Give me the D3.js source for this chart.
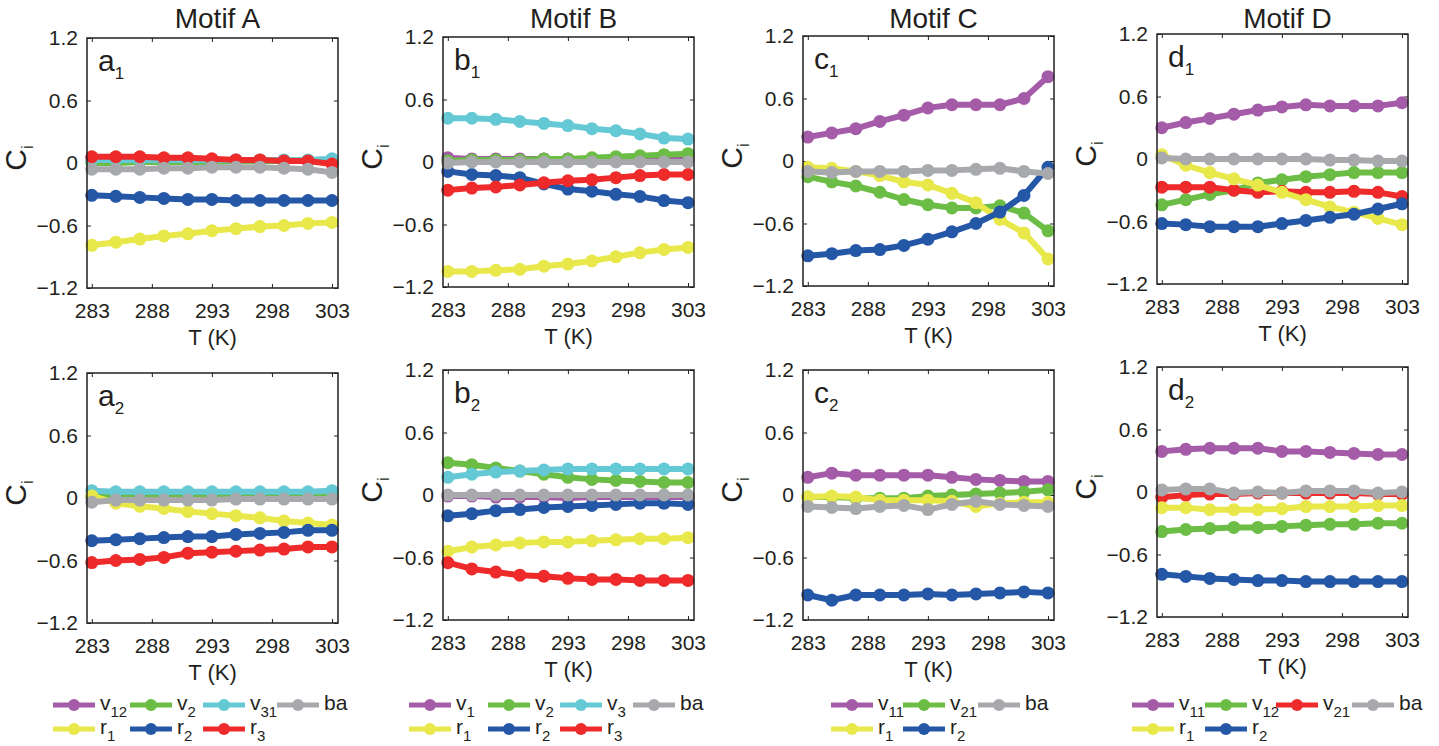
<!DOCTYPE html>
<html>
<head>
<meta charset="utf-8">
<script src="https://cdn.jsdelivr.net/npm/d3@7"></script>
<style>
  body { margin: 0; background: #fff; }
  svg { display: block; font-family: "Liberation Sans", Arial, sans-serif; }
  .tick text { fill: #231f20; font-size: 21px; }
  .tick line { stroke: #231f20; stroke-width: 1; }
</style>
</head>
<body>
<svg id="chart" width="1439" height="746"></svg>
<script>
// temperature points (K)
const temps = [283, 285, 287, 289, 291, 293, 295, 297, 299, 301, 303];
const xTicks = [283, 288, 293, 298, 303];
const yTicks = [-1.2, -0.6, 0, 0.6, 1.2];

// Motif A, condition 1
const a1_v12 = [0.05, 0.05, 0.05, 0.04, 0.04, 0.03, 0.03, 0.02, 0.02, 0.02, 0.01];
const a1_v2 = [0.0, 0.0, 0.01, 0.01, 0.01, 0.01, 0.02, 0.02, 0.02, 0.02, 0.02];
const a1_v31 = [0.03, 0.03, 0.03, 0.03, 0.03, 0.03, 0.03, 0.03, 0.03, 0.03, 0.04];
const a1_r1 = [-0.79, -0.76, -0.73, -0.70, -0.68, -0.65, -0.63, -0.61, -0.60, -0.58, -0.57];
const a1_r2 = [-0.31, -0.32, -0.33, -0.34, -0.35, -0.35, -0.36, -0.36, -0.36, -0.36, -0.36];
const a1_r3 = [0.06, 0.06, 0.06, 0.05, 0.05, 0.04, 0.03, 0.03, 0.02, 0.02, -0.01];
const a1_ba = [-0.06, -0.06, -0.06, -0.05, -0.05, -0.04, -0.04, -0.04, -0.05, -0.06, -0.09];

// Motif A, condition 2
const a2_v12 = [0.01, 0.01, 0.01, 0.01, 0.01, 0.01, 0.01, 0.01, 0.01, 0.01, 0.01];
const a2_v2 = [0.02, 0.02, 0.02, 0.02, 0.02, 0.02, 0.02, 0.02, 0.02, 0.02, 0.02];
const a2_v31 = [0.07, 0.06, 0.06, 0.06, 0.06, 0.06, 0.06, 0.06, 0.06, 0.06, 0.07];
const a2_r1 = [0.02, -0.05, -0.08, -0.10, -0.13, -0.15, -0.17, -0.19, -0.22, -0.24, -0.26];
const a2_r2 = [-0.41, -0.40, -0.39, -0.38, -0.37, -0.37, -0.35, -0.34, -0.33, -0.31, -0.31];
const a2_r3 = [-0.62, -0.60, -0.59, -0.57, -0.53, -0.52, -0.51, -0.50, -0.49, -0.47, -0.47];
const a2_ba = [-0.04, -0.02, -0.02, -0.02, -0.02, -0.02, -0.01, -0.01, -0.01, -0.01, -0.01];

// Motif B, condition 1
const b1_v1 = [0.04, 0.03, 0.03, 0.03, 0.03, 0.03, 0.03, 0.03, 0.03, 0.03, 0.03];
const b1_v2 = [0.01, 0.02, 0.02, 0.02, 0.03, 0.03, 0.04, 0.05, 0.06, 0.07, 0.08];
const b1_v3 = [0.42, 0.42, 0.41, 0.39, 0.37, 0.35, 0.32, 0.30, 0.27, 0.23, 0.22];
const b1_r1 = [-1.05, -1.05, -1.04, -1.03, -1.00, -0.98, -0.95, -0.91, -0.87, -0.84, -0.82];
const b1_r2 = [-0.09, -0.12, -0.13, -0.15, -0.21, -0.26, -0.28, -0.31, -0.33, -0.37, -0.39];
const b1_r3 = [-0.27, -0.25, -0.24, -0.22, -0.20, -0.18, -0.17, -0.15, -0.13, -0.12, -0.12];
const b1_ba = [-0.01, 0.0, 0.0, 0.0, 0.0, 0.0, 0.0, 0.0, 0.0, 0.0, 0.0];

// Motif B, condition 2
const b2_v1 = [-0.01, -0.01, -0.02, -0.02, -0.02, -0.03, -0.02, -0.02, -0.02, -0.02, -0.02];
const b2_v2 = [0.31, 0.29, 0.26, 0.23, 0.20, 0.17, 0.15, 0.14, 0.13, 0.12, 0.12];
const b2_v3 = [0.17, 0.20, 0.22, 0.23, 0.24, 0.25, 0.25, 0.25, 0.25, 0.25, 0.25];
const b2_r1 = [-0.54, -0.50, -0.48, -0.46, -0.45, -0.45, -0.44, -0.43, -0.42, -0.42, -0.41];
const b2_r2 = [-0.20, -0.18, -0.15, -0.14, -0.12, -0.11, -0.10, -0.09, -0.08, -0.08, -0.09];
const b2_r3 = [-0.65, -0.71, -0.74, -0.77, -0.78, -0.80, -0.81, -0.81, -0.82, -0.82, -0.82];
const b2_ba = [0.0, 0.0, 0.0, 0.0, 0.0, 0.0, 0.0, 0.0, 0.0, 0.0, 0.0];

// Motif C, condition 1
const c1_v11 = [0.23, 0.27, 0.31, 0.38, 0.44, 0.51, 0.54, 0.54, 0.54, 0.60, 0.81];
const c1_v21 = [-0.15, -0.20, -0.24, -0.30, -0.37, -0.42, -0.45, -0.45, -0.43, -0.50, -0.67];
const c1_r1 = [-0.06, -0.07, -0.10, -0.14, -0.20, -0.23, -0.31, -0.40, -0.56, -0.69, -0.94];
const c1_r2 = [-0.91, -0.89, -0.86, -0.85, -0.81, -0.75, -0.68, -0.60, -0.49, -0.33, -0.06];
const c1_ba = [-0.10, -0.11, -0.10, -0.10, -0.10, -0.09, -0.09, -0.08, -0.07, -0.10, -0.12];

// Motif C, condition 2
const c2_v11 = [0.17, 0.21, 0.19, 0.19, 0.19, 0.19, 0.17, 0.15, 0.14, 0.13, 0.13];
const c2_v21 = [-0.02, -0.02, -0.03, -0.03, -0.03, -0.01, 0.0, 0.01, 0.02, 0.03, 0.05];
const c2_r1 = [-0.02, -0.01, -0.02, -0.05, -0.05, -0.05, -0.06, -0.11, -0.08, -0.07, -0.07];
const c2_r2 = [-0.96, -1.01, -0.96, -0.96, -0.96, -0.95, -0.96, -0.95, -0.94, -0.93, -0.94];
const c2_ba = [-0.11, -0.12, -0.13, -0.11, -0.10, -0.14, -0.09, -0.06, -0.09, -0.10, -0.11];

// Motif D, condition 1
const d1_v11 = [0.30, 0.35, 0.39, 0.43, 0.47, 0.50, 0.52, 0.51, 0.51, 0.51, 0.54];
const d1_v12 = [-0.44, -0.39, -0.34, -0.30, -0.23, -0.20, -0.17, -0.15, -0.13, -0.13, -0.13];
const d1_v21 = [-0.27, -0.27, -0.27, -0.30, -0.32, -0.31, -0.32, -0.32, -0.31, -0.32, -0.36];
const d1_r1 = [0.04, -0.06, -0.13, -0.19, -0.25, -0.32, -0.39, -0.46, -0.51, -0.57, -0.63];
const d1_r2 = [-0.62, -0.63, -0.65, -0.65, -0.65, -0.62, -0.59, -0.56, -0.53, -0.48, -0.43];
const d1_ba = [0.01, 0.0, 0.0, 0.0, 0.0, 0.0, 0.0, -0.01, -0.01, -0.02, -0.02];

// Motif D, condition 2
const d2_v11 = [0.39, 0.41, 0.42, 0.42, 0.42, 0.39, 0.39, 0.38, 0.37, 0.36, 0.36];
const d2_v12 = [-0.38, -0.36, -0.35, -0.34, -0.34, -0.33, -0.32, -0.31, -0.31, -0.30, -0.30];
const d2_v21 = [-0.05, -0.03, -0.02, -0.02, -0.01, -0.01, -0.01, -0.01, -0.01, -0.02, -0.02];
const d2_r1 = [-0.15, -0.15, -0.17, -0.17, -0.17, -0.16, -0.14, -0.14, -0.14, -0.13, -0.13];
const d2_r2 = [-0.79, -0.81, -0.83, -0.84, -0.85, -0.85, -0.86, -0.86, -0.86, -0.86, -0.86];
const d2_ba = [0.02, 0.03, 0.03, -0.01, 0.0, -0.01, 0.01, 0.01, 0.01, -0.01, 0.0];

// series names per motif, in drawing order, and legend order
const motifTitles = ["Motif A", "Motif B", "Motif C", "Motif D"];
const motifKeys = [
  ["v12", "v2", "v31", "r1", "r2", "r3", "ba"],
  ["v1", "v2", "v3", "r1", "r2", "r3", "ba"],
  ["v11", "v21", "r1", "r2", "ba"],
  ["v11", "v12", "v21", "r1", "r2", "ba"]
];
const legendRows = [
  [["v12", "v2", "v31", "ba"], ["r1", "r2", "r3"]],
  [["v1", "v2", "v3", "ba"], ["r1", "r2", "r3"]],
  [["v11", "v21", "ba"], ["r1", "r2"]],
  [["v11", "v12", "v21", "ba"], ["r1", "r2"]]
];

const purple = "#a55ca8", green = "#6cbd45", cyan = "#64c9d4", gray = "#a7a9ac",
      yellow = "#e8e84a", blue = "#2557a7", red = "#ee2a2a";
const motifColors = [
  { v12: purple, v2: green, v31: cyan, r1: yellow, r2: blue, r3: red, ba: gray },
  { v1: purple, v2: green, v3: cyan, r1: yellow, r2: blue, r3: red, ba: gray },
  { v11: purple, v21: green, r1: yellow, r2: blue, ba: gray },
  { v11: purple, v12: green, v21: red, r1: yellow, r2: blue, ba: gray }
];

// panels (rows x motifs)
const panels = [
  { col: 0, row: 0, tag: "a", values: [a1_v12, a1_v2, a1_v31, a1_r1, a1_r2, a1_r3, a1_ba] },
  { col: 1, row: 0, tag: "b", values: [b1_v1, b1_v2, b1_v3, b1_r1, b1_r2, b1_r3, b1_ba] },
  { col: 2, row: 0, tag: "c", values: [c1_v11, c1_v21, c1_r1, c1_r2, c1_ba] },
  { col: 3, row: 0, tag: "d", values: [d1_v11, d1_v12, d1_v21, d1_r1, d1_r2, d1_ba] },
  { col: 0, row: 1, tag: "a", values: [a2_v12, a2_v2, a2_v31, a2_r1, a2_r2, a2_r3, a2_ba] },
  { col: 1, row: 1, tag: "b", values: [b2_v1, b2_v2, b2_v3, b2_r1, b2_r2, b2_r3, b2_ba] },
  { col: 2, row: 1, tag: "c", values: [c2_v11, c2_v21, c2_r1, c2_r2, c2_ba] },
  { col: 3, row: 1, tag: "d", values: [d2_v11, d2_v12, d2_v21, d2_r1, d2_r2, d2_ba] }
];

// layout
const W = 251, H = 250;
const colLeft = [87, 443, 803, 1157];
const rowTop = [[38, 37, 36, 34], [373, 370, 370, 367]];
const legendX = [[53, 130, 203, 277], [409, 488, 560, 633], [831, 903, 978], [1132, 1205, 1276, 1352]];
const legendY = [705, 729];
const ink = "#231f20";

const svg = d3.select("#chart");

const x = d3.scaleLinear().domain([282.6, 303.5]).range([0, W]);
const y = d3.scaleLinear().domain([-1.2, 1.2]).range([H, 0]);
const yFmt = d => d === 0 ? "0" : d3.format(".1f")(d);

const line = d3.line().x((d, i) => x(temps[i])).y(d => y(d));

// text with subscript, e.g. "v12" -> v + sub 12
function subText(sel, key, mainSize, subSize, subDy) {
  const m = key.match(/^([a-z]+)(\d*)$/);
  sel.append("tspan").attr("font-size", mainSize).text(m[1]);
  if (m[2]) sel.append("tspan").attr("font-size", subSize).attr("dy", subDy).text(m[2]);
}

// titles
motifTitles.forEach((t, c) => {
  svg.append("text")
    .attr("x", colLeft[c] + W / 2 + 5)
    .attr("y", 28)
    .attr("text-anchor", "middle")
    .attr("font-size", 28)
    .attr("fill", ink)
    .text(t);
});

panels.forEach(p => {
  const left = colLeft[p.col], top = rowTop[p.row][p.col];
  const g = svg.append("g").attr("transform", `translate(${left},${top})`);

  // axes with inward ticks on all sides
  g.append("g").call(d3.axisLeft(y).tickValues(yTicks).tickFormat(yFmt).tickSize(-4).tickPadding(9))
    .call(a => a.select(".domain").remove());
  g.append("g").attr("transform", `translate(${W},0)`)
    .call(d3.axisRight(y).tickValues(yTicks).tickFormat("").tickSize(-4))
    .call(a => a.select(".domain").remove());
  g.append("g").attr("transform", `translate(0,${H})`)
    .call(d3.axisBottom(x).tickValues(xTicks).tickFormat(d3.format("d")).tickSize(-4).tickPadding(15))
    .call(a => a.select(".domain").remove());
  g.append("g")
    .call(d3.axisTop(x).tickValues(xTicks).tickFormat("").tickSize(-4))
    .call(a => a.select(".domain").remove());

  // series
  const keys = motifKeys[p.col];
  keys.forEach((k, i) => {
    const col = motifColors[p.col][k];
    const vals = p.values[i];
    g.append("path")
      .datum(vals)
      .attr("d", line)
      .attr("fill", "none")
      .attr("stroke", col)
      .attr("stroke-width", 6)
      .attr("stroke-linejoin", "round");
    g.selectAll(null)
      .data(vals)
      .enter()
      .append("circle")
      .attr("cx", (d, j) => x(temps[j]))
      .attr("cy", d => y(d))
      .attr("r", 6.5)
      .attr("fill", col);
  });

  // frame
  g.append("rect")
    .attr("width", W).attr("height", H)
    .attr("fill", "none")
    .attr("stroke", ink)
    .attr("stroke-width", 1.5);

  // panel tag
  const tag = g.append("text").attr("x", 11).attr("y", 33).attr("fill", ink);
  subText(tag, p.tag + (p.row + 1), 30, 17, 8);

  // axis labels
  g.append("text")
    .attr("x", W / 2).attr("y", H + 57)
    .attr("text-anchor", "middle")
    .attr("font-size", 22)
    .attr("fill", ink)
    .text("T (K)");

  const yl = g.append("text")
    .attr("transform", `translate(-61,${H / 2 - 5}) rotate(-90)`)
    .attr("text-anchor", "middle")
    .attr("fill", ink);
  yl.append("tspan").attr("font-size", 30).text("C");
  yl.append("tspan").attr("font-size", 17).attr("dy", 7).text("i");
});

// legends
legendRows.forEach((rows, c) => {
  rows.forEach((keys, r) => {
    keys.forEach((k, j) => {
      const lx = legendX[c][j], ly = legendY[r];
      const col = motifColors[c][k];
      const lg = svg.append("g").attr("transform", `translate(${lx},${ly})`);
      lg.append("line").attr("x1", 0).attr("x2", 42)
        .attr("stroke", col).attr("stroke-width", 5);
      lg.append("circle").attr("cx", 21).attr("r", 6).attr("fill", col);
      const t = lg.append("text").attr("x", 47).attr("y", 5).attr("fill", ink);
      subText(t, k, 21, 15, 7);
    });
  });
});
</script>
</body>
</html>
